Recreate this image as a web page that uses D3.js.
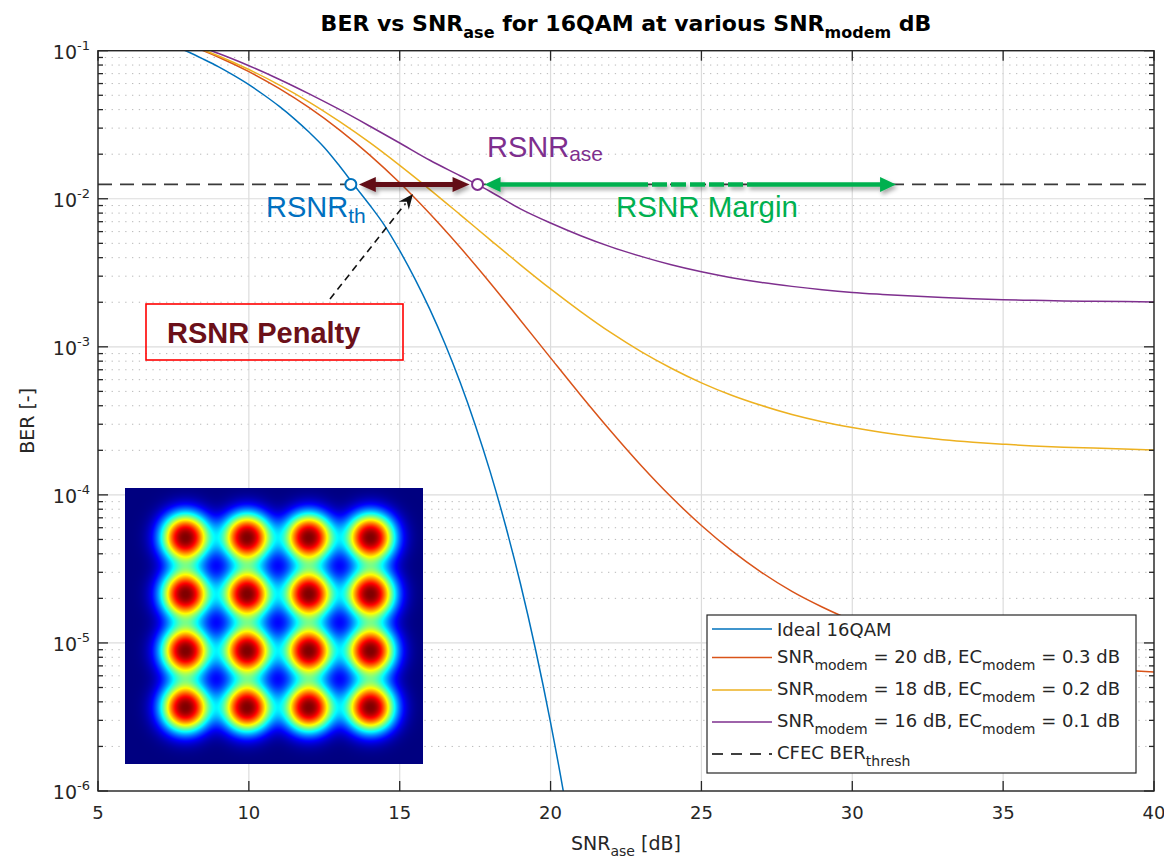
<!DOCTYPE html>
<html><head><meta charset="utf-8">
<script src="https://cdn.jsdelivr.net/npm/d3@7"></script>
<style>body{margin:0;background:#fff}svg{display:block}</style>
</head><body><svg id="c" width="1164" height="859"></svg>
<script>
// ---------------- data ----------------
const snrIdeal = [7,7.5,8,8.5,9,9.5,10,10.5,11,11.5,12,12.5,13,13.5,14,14.5,15,15.5,16,16.5,17,17.5,18,18.5,19,19.5,20,20.5,21];
const berIdeal = [0.1187,0.1081,0.0980,0.0876,0.0778,0.0681,0.0590,0.0502,0.0422,0.0348,0.0281,0.0222,0.0167,0.0123,0.0091,0.00659,0.00446,0.00289,0.00179,0.001049,0.000578,0.000298,0.000143,6.28e-5,2.52e-5,9.07e-6,2.90e-6,8.1e-7,1.95e-7];
const snrModem = [8,8.5,9,10,11,12,13,14,15,16,17,18,19,20,21,22,23,24,25,26,27,28,29,30,31,32,33,34,35,36,37,38,39,40];
const berModem20 = [0.1095,0.0998,0.0903,0.0722,0.0556,0.0412,0.0292,0.0198,0.01282,0.00791,0.00470,0.00270,0.001513,0.000842,0.000471,0.000269,0.000158,9.67e-5,6.21e-5,4.20e-5,2.99e-5,2.23e-5,1.75e-5,1.42e-5,1.20e-5,1.04e-5,9.31e-6,8.49e-6,7.87e-6,7.39e-6,7.03e-6,6.75e-6,6.53e-6,6.37e-6];
const berModem18 = [0.1105,0.1012,0.0920,0.0746,0.0588,0.0450,0.0333,0.0240,0.0168,0.01154,0.00782,0.00528,0.00358,0.00246,0.00173,0.001245,0.000928,0.000717,0.000571,0.000471,0.000401,0.000349,0.000312,0.000285,0.000264,0.000248,0.000236,0.000227,0.000220,0.000214,0.000210,0.000207,0.000204,0.000201];
const berModem16 = [0.1132,0.1042,0.0957,0.0792,0.0642,0.0511,0.0401,0.0310,0.0238,0.0182,0.0143,0.0112,0.00855,0.00686,0.00563,0.00473,0.00408,0.00358,0.00321,0.00293,0.00272,0.00256,0.00243,0.00233,0.00226,0.00220,0.00215,0.00211,0.00208,0.00206,0.00204,0.00203,0.00202,0.00201];
const berThreshold = 0.0125;
const rsnrTh = 13.38, rsnrAse = 17.58, rsnrMarginEnd = 31.45;
const xTicks = [5,10,15,20,25,30,35,40];
const yTickExp = [-6,-5,-4,-3,-2,-1];
const seriesColors = ["#0072BD","#D95319","#EDB120","#7E2F8E"];
const legendParts = [
  ["Ideal 16QAM"],
  ["SNR","modem"," = 20 dB, EC","modem"," = 0.3 dB"],
  ["SNR","modem"," = 18 dB, EC","modem"," = 0.2 dB"],
  ["SNR","modem"," = 16 dB, EC","modem"," = 0.1 dB"],
  ["CFEC BER","thresh"]
];
const constLevels = [-3,-1,1,3];

// ---------------- layout ----------------
const P = {l:98, r:1154, t:50.7, b:791};
const x = d3.scaleLinear().domain([5,40]).range([P.l,P.r]);
const y = d3.scaleLog().domain([1e-6,1e-1]).range([P.b,P.t]);
const svg = d3.select('#c');
const defs = svg.append('defs');
defs.append('clipPath').attr('id','clip').append('rect')
  .attr('x',P.l).attr('y',P.t).attr('width',P.r-P.l).attr('height',P.b-P.t);
const sh = defs.append('filter').attr('id','sh').attr('x','-10%').attr('y','-200%').attr('width','120%').attr('height','500%');
sh.append('feDropShadow').attr('dx',2).attr('dy',3).attr('stdDeviation',2).attr('flood-color','#000').attr('flood-opacity',0.35);

const FONT = "DejaVu Sans";
const AX = "#262626";

// grid
const allY = y.ticks();
const isMajor = v => Math.abs(Math.log10(v) - Math.round(Math.log10(v))) < 1e-6;
const g = svg.append('g');
g.selectAll('.mn').data(allY.filter(v=>!isMajor(v))).join('line')
  .attr('x1',P.l).attr('x2',P.r).attr('y1',d=>y(d)).attr('y2',d=>y(d))
  .attr('stroke','#b8b8b8').attr('stroke-width',1).attr('stroke-dasharray','1.3,5.5');
g.selectAll('.mjy').data(yTickExp.map(e=>Math.pow(10,e))).join('line')
  .attr('x1',P.l).attr('x2',P.r).attr('y1',d=>y(d)).attr('y2',d=>y(d))
  .attr('stroke','#dcdcdc').attr('stroke-width',1.2);
g.selectAll('.mjx').data(xTicks).join('line')
  .attr('x1',d=>x(d)).attr('x2',d=>x(d)).attr('y1',P.t).attr('y2',P.b)
  .attr('stroke','#dcdcdc').attr('stroke-width',1.2);

// curves
const line = d3.line().x(d=>x(d[0])).y(d=>y(d[1])).curve(d3.curveMonotoneX);
const curves = [
  d3.zip(snrIdeal,berIdeal),
  d3.zip(snrModem,berModem20),
  d3.zip(snrModem,berModem18),
  d3.zip(snrModem,berModem16)
];
const cg = svg.append('g').attr('clip-path','url(#clip)');
cg.selectAll('path').data(curves).join('path')
  .attr('d',line).attr('fill','none')
  .attr('stroke',(d,i)=>seriesColors[i]).attr('stroke-width',1.5);

// threshold
cg.append('line').attr('x1',P.l).attr('x2',P.r)
  .attr('y1',y(berThreshold)).attr('y2',y(berThreshold))
  .attr('stroke','#3a3a3a').attr('stroke-width',1.6).attr('stroke-dasharray','14,8');

// axes box + ticks
svg.append('rect').attr('x',P.l).attr('y',P.t).attr('width',P.r-P.l).attr('height',P.b-P.t)
  .attr('fill','none').attr('stroke',AX).attr('stroke-width',1.4);
const tk = svg.append('g').attr('stroke',AX).attr('stroke-width',1.3);
xTicks.forEach(v=>{
  tk.append('line').attr('x1',x(v)).attr('x2',x(v)).attr('y1',P.b).attr('y2',P.b-10);
  tk.append('line').attr('x1',x(v)).attr('x2',x(v)).attr('y1',P.t).attr('y2',P.t+10);
});
allY.forEach(v=>{
  const L = isMajor(v)?10:5;
  tk.append('line').attr('x1',P.l).attr('x2',P.l+L).attr('y1',y(v)).attr('y2',y(v));
  tk.append('line').attr('x1',P.r).attr('x2',P.r-L).attr('y1',y(v)).attr('y2',y(v));
});

// tick labels
svg.append('g').selectAll('text').data(xTicks).join('text')
  .attr('x',d=>x(d)).attr('y',P.b+28).attr('text-anchor','middle')
  .attr('font-family',FONT).attr('font-size',18).attr('fill',AX).text(d=>d);
const yl = svg.append('g').selectAll('text').data(yTickExp).join('text')
  .attr('x',P.l-8).attr('y',d=>y(Math.pow(10,d))+8).attr('text-anchor','end')
  .attr('font-family',FONT).attr('font-size',19).attr('fill',AX);
yl.append('tspan').text('10');
yl.append('tspan').attr('dy',-9).attr('font-size',13).text(d=>d);

// axis labels
const xl = svg.append('text').attr('x',(P.l+P.r)/2).attr('y',850).attr('text-anchor','middle')
  .attr('font-family',FONT).attr('font-size',19).attr('fill',AX);
xl.append('tspan').text('SNR');
xl.append('tspan').attr('dy',6).attr('font-size',14).text('ase');
xl.append('tspan').attr('dy',-6).text(' [dB]');
svg.append('text').attr('transform',`translate(34,${(P.t+P.b)/2}) rotate(-90)`).attr('text-anchor','middle')
  .attr('font-family',FONT).attr('font-size',19).attr('fill',AX).text('BER [-]');

// title
const tt = svg.append('text').attr('x',(P.l+P.r)/2).attr('y',31).attr('text-anchor','middle')
  .attr('font-family',FONT).attr('font-weight','bold').attr('font-size',22).attr('fill','#000');
tt.append('tspan').text('BER vs SNR');
tt.append('tspan').attr('dy',7).attr('font-size',16).text('ase');
tt.append('tspan').attr('dy',-7).text(' for 16QAM at various SNR');
tt.append('tspan').attr('dy',7).attr('font-size',16).text('modem');
tt.append('tspan').attr('dy',-7).text(' dB');

// legend
const LG = {x:707,y:615,w:429,h:158};
svg.append('rect').attr('x',LG.x).attr('y',LG.y).attr('width',LG.w).attr('height',LG.h)
  .attr('fill','#fff').attr('stroke',AX).attr('stroke-width',1.2);
const rowY = [629,657.5,690,722,754];
legendParts.forEach((parts,i)=>{
  const ly = rowY[i];
  const ln = svg.append('line').attr('x1',712).attr('x2',772).attr('y1',ly).attr('y2',ly)
    .attr('stroke-width',1.5);
  if(i<4) ln.attr('stroke',seriesColors[i]);
  else ln.attr('stroke','#000').attr('stroke-dasharray','11,8');
  const t = svg.append('text').attr('x',777).attr('y',ly+(i===0?7:5))
    .attr('font-family',FONT).attr('font-size',18).attr('fill',AX);
  parts.forEach((p,j)=>{
    const s = t.append('tspan').text(p);
    if(j%2===1) s.attr('dy',7).attr('font-size',14);
    else if(j>0) s.attr('dy',-7);
  });
});

// constellation inset
const IN = {x:125,y:488,w:298,h:276};
const ix = d3.scaleLinear().domain([-3,3]).range([60,245]);
const iy = d3.scaleLinear().domain([3,-3]).range([49,219]);
const cv = document.createElement('canvas'); cv.width=IN.w; cv.height=IN.h;
const ctx = cv.getContext('2d'); const im = ctx.createImageData(IN.w,IN.h);
const cl = v=>Math.max(0,Math.min(1,v));
for(let py=0;py<IN.h;py++)for(let px=0;px<IN.w;px++){
  let v=0;
  constLevels.forEach(a=>constLevels.forEach(b=>{
    const r=Math.hypot(px-ix(a),py-iy(b)); v+=Math.exp(-Math.pow(r/24.5,2.3));
  }));
  v=Math.min(v,1);
  const R=cl(Math.min(4*v-1.5,-4*v+4.5)),G=cl(Math.min(4*v-0.5,-4*v+3.5)),B=cl(Math.min(4*v+0.5,-4*v+2.5));
  const k=(py*IN.w+px)*4; im.data[k]=R*255; im.data[k+1]=G*255; im.data[k+2]=B*255; im.data[k+3]=255;
}
ctx.putImageData(im,0,0);
svg.append('image').attr('x',IN.x).attr('y',IN.y).attr('width',IN.w).attr('height',IN.h)
  .attr('href',cv.toDataURL());

// annotations
const yT = y(berThreshold);
const RED = "#621018", GREEN = "#00B050";
function arrowHead(gg, tipX, tipY, dir, len, half, color){
  gg.append('polygon').attr('points',`${tipX},${tipY} ${tipX-dir*len},${tipY-half} ${tipX-dir*len},${tipY+half}`).attr('fill',color);
}
// penalty arrow (double)
const pa = svg.append('g').attr('filter','url(#sh)');
const pL = x(rsnrTh)+8, pR = x(rsnrAse)-8;
pa.append('line').attr('x1',pL+14).attr('x2',pR-14).attr('y1',yT).attr('y2',yT).attr('stroke',RED).attr('stroke-width',5);
arrowHead(pa,pL,yT,-1,17,7.5,RED);
arrowHead(pa,pR,yT,1,17,7.5,RED);
// margin arrow
const ma = svg.append('g').attr('filter','url(#sh)');
const mL = x(rsnrAse)+7, mR = x(rsnrMarginEnd);
ma.append('line').attr('x1',mL+14).attr('x2',633).attr('y1',yT).attr('y2',yT).attr('stroke',GREEN).attr('stroke-width',4.5);
ma.append('line').attr('x1',633).attr('x2',758).attr('y1',yT).attr('y2',yT).attr('stroke',GREEN).attr('stroke-width',4.5).attr('stroke-dasharray','15,4');
ma.append('line').attr('x1',758).attr('x2',mR-14).attr('y1',yT).attr('y2',yT).attr('stroke',GREEN).attr('stroke-width',4.5);
arrowHead(ma,mL,yT,-1,16,7.5,GREEN);
arrowHead(ma,mR,yT,1,16,7.5,GREEN);
// circles
svg.append('circle').attr('cx',x(rsnrTh)).attr('cy',yT).attr('r',5.5).attr('fill','#fff').attr('stroke','#0072BD').attr('stroke-width',2);
svg.append('circle').attr('cx',x(rsnrAse)).attr('cy',yT).attr('r',5.5).attr('fill','#fff').attr('stroke','#7E2F8E').attr('stroke-width',2);

// texts
const AF = "Liberation Sans";
const t1 = svg.append('text').attr('x',487).attr('y',157).attr('font-family',AF).attr('font-size',29).attr('fill','#7E2F8E');
t1.append('tspan').text('RSNR'); t1.append('tspan').attr('dy',4).attr('font-size',21).text('ase');
const t2 = svg.append('text').attr('x',266).attr('y',217).attr('font-family',AF).attr('font-size',29).attr('fill','#0070C0');
t2.append('tspan').text('RSNR'); t2.append('tspan').attr('dy',6).attr('font-size',21).text('th');
svg.append('text').attr('x',616).attr('y',217).attr('font-family',AF).attr('font-size',29.5).attr('fill',GREEN).text('RSNR Margin');

// penalty box + pointer
svg.append('rect').attr('x',146).attr('y',304).attr('width',257).attr('height',56)
  .attr('fill','none').attr('stroke','#ff0000').attr('stroke-width',1.6);
svg.append('text').attr('x',167).attr('y',343).attr('font-family',AF).attr('font-weight','bold')
  .attr('font-size',29).attr('fill','#6B1019').text('RSNR Penalty');
const tail=[330,299], tip=[413,194];
const dx=tip[0]-tail[0], dy=tip[1]-tail[1], dl=Math.hypot(dx,dy), ux=dx/dl, uy=dy/dl;
svg.append('line').attr('x1',tail[0]).attr('y1',tail[1]).attr('x2',tip[0]-ux*12).attr('y2',tip[1]-uy*12)
  .attr('stroke','#111').attr('stroke-width',1.6).attr('stroke-dasharray','7,5');
const bx=tip[0]-ux*15, by=tip[1]-uy*15;
svg.append('polygon').attr('points',`${tip[0]},${tip[1]} ${bx-uy*6.5},${by+ux*6.5} ${tip[0]-ux*10},${tip[1]-uy*10} ${bx+uy*6.5},${by-ux*6.5}`).attr('fill','#111');
</script></body></html>
